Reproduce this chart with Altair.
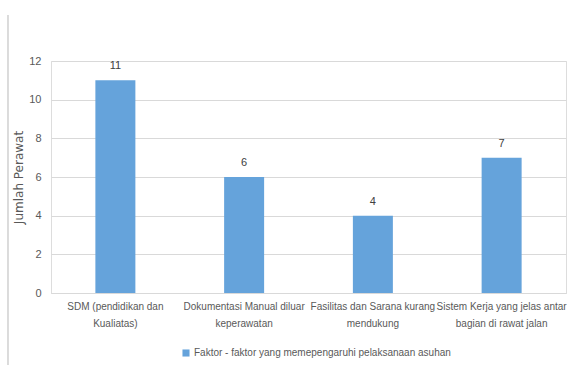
import altair as alt
import pandas as pd

categories = [
    "SDM (pendidikan dan\nKualiatas)",
    "Dokumentasi Manual diluar\nkeperawatan",
    "Fasilitas dan Sarana kurang\nmendukung",
    "Sistem Kerja yang jelas antar\nbagian di rawat jalan",
]
values = [11, 6, 4, 7]
y_ticks = [0, 2, 4, 6, 8, 10, 12]
series_name = "Faktor - faktor yang memepengaruhi pelaksanaan asuhan"

df = pd.DataFrame({"kategori": categories, "jumlah": values, "seri": [series_name] * len(values)})

FONT = "Liberation Sans"
GRAY = "#595959"
BLUE = "#65A3DB"

x_enc = alt.X(
    "kategori:N",
    sort=categories,
    title=None,
    axis=alt.Axis(
        labelAngle=0,
        labelExpr="split(datum.label, '\\n')",
        labelFont=FONT,
        labelFontSize=10,
        labelColor=GRAY,
        labelLineHeight=17,
        labelPadding=8,
        ticks=False,
        domain=True,
        domainColor="#d9d9d9",
        labelLimit=200,
        labelOverlap=False,
    ),
)

y_enc = alt.Y(
    "jumlah:Q",
    scale=alt.Scale(domain=[0, 12]),
    title="Jumlah Perawat",
    axis=alt.Axis(
        values=y_ticks,
        labelFont=FONT,
        labelFontSize=11,
        labelColor=GRAY,
        labelPadding=10,
        labelOverlap=False,
        ticks=False,
        domain=False,
        gridColor="#d9d9d9",
        titleFont="DejaVu Sans",
        titleFontSize=12,
        titleFontWeight="normal",
        titleColor=GRAY,
        titlePadding=3,
    ),
)

base = alt.Chart(df)

bars = base.mark_bar(size=40).encode(
    x=x_enc,
    y=y_enc,
    color=alt.Color(
        "seri:N",
        scale=alt.Scale(range=[BLUE]),
        title=None,
        legend=alt.Legend(
            orient="none",
            legendX=130,
            legendY=287,
            symbolType="square",
            symbolSize=50,
            labelFont=FONT,
            labelFontSize=10,
            labelColor=GRAY,
            labelLimit=400,
            labelOffset=3,
        ),
    ),
)

text = base.mark_text(dy=-14, font=FONT, fontSize=11, color="#404040").encode(
    x=x_enc,
    y=y_enc,
    text="jumlah:Q",
)

border = base.mark_rule(color="#d9d9d9").encode(
    x=alt.value(-43), y=alt.value(-46), y2=alt.value(310)
)

chart = (
    alt.layer(bars, text, border)
    .properties(
        width=515,
        height=232,
        autosize="none",
        padding={"left": 51, "top": 61, "right": 6, "bottom": 72},
    )
    .configure_view(stroke=None)
    .configure(background="white")
)

chart.save("out.html", embed_options={"renderer": "svg", "actions": False})
